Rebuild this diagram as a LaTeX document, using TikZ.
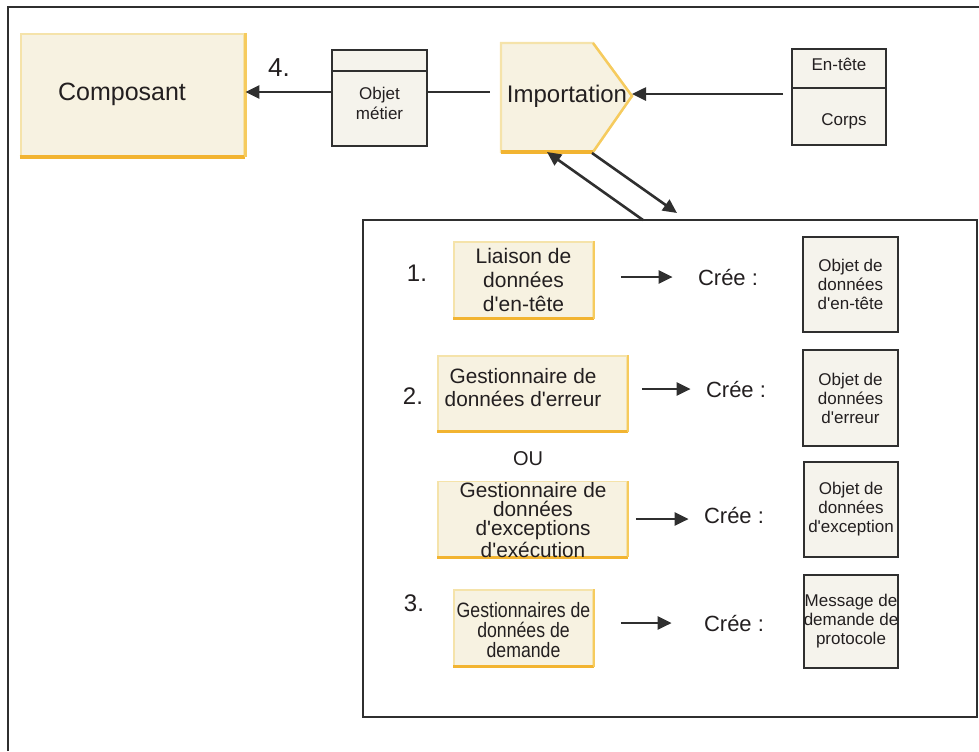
\documentclass[tikz,border=0pt]{standalone}
\usepackage{fontspec}
\setmainfont{Liberation Sans}
\newfontfamily\narrowsans[FakeStretch=0.85]{Liberation Sans}
\usetikzlibrary{arrows.meta,calc}

\definecolor{cream}{HTML}{F7F2E1}
\definecolor{paleedge}{HTML}{F5E3AA}
\definecolor{orangeedge}{HTML}{F2B431}
\definecolor{sideedge}{HTML}{F6CB5E}
\definecolor{greyfill}{HTML}{F5F3EC}
\definecolor{darkline}{HTML}{2F2F2F}
\definecolor{inktext}{HTML}{231F20}

\newcommand{\ap}{\textquotesingle}

\tikzset{
	yellowbox/.style={draw=paleedge, fill=cream, line width=0.8pt, inner sep=0pt, align=center},
	greybox/.style={draw=darkline, fill=greyfill, line width=1pt, inner sep=0pt},
	smalltext/.style={align=center, inner sep=0pt, text=inktext, font=\fontsize{8.5}{9.5}\selectfont},
	boxtext/.style={align=center, inner sep=0pt, text=inktext, font=\fontsize{10.5}{11.8}\selectfont},
	arr/.style={-{Triangle[length=7pt,width=6.5pt]}, line width=1.3pt, draw=darkline},
	num/.style={inner sep=0pt, text=inktext, font=\fontsize{12}{14}\selectfont},
	cree/.style={inner sep=0pt, text=inktext, font=\fontsize{11}{13}\selectfont},
	bottomedge/.style={draw=orangeedge, line width=1.5pt},
	rightedge/.style={draw=sideedge, line width=1pt},
}

\begin{document}
\begin{tikzpicture}[x=0.5pt,y=-0.5pt]
	\useasboundingbox (0,0) rectangle (979,751);
	% outer frame, open to the right and bottom
	\draw[darkline, line width=1pt] (8,751) -- (8,7) -- (979,7);
	
	% top row
	\node[yellowbox, line width=1.4pt, minimum width=111.5pt, minimum height=61pt] (comp) at (132.5,95) {};
	\draw[orangeedge, line width=2pt] (comp.south west) -- (comp.south east);
	\draw[sideedge, line width=1.2pt] (comp.south east) -- (comp.north east);
	\node[inner sep=0pt, text=inktext, font=\fontsize{12.5}{14}\selectfont] (comptxt) at (122,94) {Composant};
	\node[num, font=\fontsize{13}{15}\selectfont] (four) at (279,68) {4.};
	
	\node[greybox, minimum width=47.5pt, minimum height=48pt] (objmet) at (379.5,98) {};
	\draw[darkline, line width=1pt] (objmet.west |- 0,71) -- (objmet.east |- 0,71);
	\node[smalltext, font=\fontsize{8.5}{10}\selectfont] (objmettxt) at (379.5,103) {Objet\\métier};
	
	\draw[fill=cream, draw=paleedge, line width=1.2pt] (501,43) -- (593,43) -- (632,96) -- (593,152) -- (501,152) -- cycle;
	\draw[sideedge, line width=1.2pt] (593,43) -- (632,96) -- (593,152);
	\draw[orangeedge, line width=2pt] (501,152) -- (593,152);
	\node[inner sep=0pt, text=inktext, font=\fontsize{12}{14}\selectfont] (imp) at (567,96) {Importation};
	\coordinate (imptip) at (632,94);
	\coordinate (impgap) at (490,92);
	\coordinate (impbotl) at (547,152);
	\coordinate (impbotr) at (592,153);
	
	\node[greybox, minimum width=47pt, minimum height=48pt] (entete) at (839,97) {};
	\draw[darkline, line width=1pt] (entete.west |- 0,88) -- (entete.east |- 0,88);
	\node[smalltext] (entetetxt) at (839,64) {En-tête};
	\node[smalltext] (corpstxt) at (844,121) {Corps};
	\coordinate (entgap) at (783,94);
	
	\draw[arr] ([yshift=3pt]objmet.west) -- ([yshift=3pt]objmet.west -| comp.east);
	\draw[darkline, line width=1.3pt] ([yshift=3pt]objmet.east) -- (impgap);
	\draw[arr] (entgap) -- (imptip);
	
	% handlers box
	\node[draw=darkline, line width=1pt, minimum width=307pt, minimum height=248.5pt, inner sep=0pt] (bigbox) at (670,468.5) {};
	\coordinate (bigtopa) at (643,220);
	\coordinate (bigtopb) at (677,213);
	\draw[arr] (bigtopa) -- (impbotl);
	\draw[arr] (impbotr) -- (bigtopb);
	
	% 1.
	\node[num] (one) at (417,273) {1.};
	\node[yellowbox, boxtext, minimum width=69.5pt, minimum height=38pt] (liaison) at (523.5,280) {Liaison de\\données\\d\ap en-tête};
	\draw[bottomedge] (liaison.south west) -- (liaison.south east);
	\draw[rightedge] (liaison.south east) -- (liaison.north east);
	\node[cree] (cree1) at (728,277) {Crée :};
	\draw[arr] ($(liaison.east |- cree1)+(27,0)$) -- ($(cree1.west)+(-25,0)$);
	\node[greybox, minimum width=47.5pt, minimum height=47.5pt] (obj1) at (850.5,284.5) {};
	\node[smalltext] (obj1txt) at (obj1) {Objet de\\données\\d\ap en-tête};
	
	% 2.
	\node[num] (two) at (413,396) {2.};
	\node[yellowbox, minimum width=94.5pt, minimum height=37.5pt] (errbox) at (532.5,393.5) {};
	\draw[bottomedge] (errbox.south west) -- (errbox.south east);
	\draw[rightedge] (errbox.south east) -- (errbox.north east);
	\node[boxtext, font=\fontsize{10.4}{11.5}\selectfont] (errtxt) at (523,388) {Gestionnaire de\\données d\ap erreur};
	\node[cree] (cree2) at (736,389) {Crée :};
	\draw[arr] ($(errbox.east |- cree2)+(14,0)$) -- ($(cree2.west)+(-15,0)$);
	\node[greybox, minimum width=47.5pt, minimum height=48pt] (obj2) at (850.5,398) {};
	\node[smalltext] (obj2txt) at (obj2) {Objet de\\données\\d\ap erreur};
	
	\node[inner sep=0pt, text=inktext, font=\fontsize{10}{12}\selectfont] (ou) at (528,459) {OU};
	
	\node[yellowbox, minimum width=94.5pt, minimum height=37.5pt] (excbox) at (532.5,519) {};
	\draw[bottomedge] (excbox.south west) -- (excbox.south east);
	\draw[rightedge] (excbox.south east) -- (excbox.north east);
	\node[boxtext, font=\fontsize{10.4}{9.4}\selectfont] (exctxt) at (533,520) {Gestionnaire de\\données\\d\ap exceptions\\d\ap exécution};
	\node[cree] (cree3) at (734,515) {Crée :};
	\draw[arr] ($(excbox.east)+(8,0)$) -- ($(cree3.west |- excbox.east)+(-15,0)$);
	\node[greybox, minimum width=47pt, minimum height=47.5pt] (obj3) at (851,509.5) {};
	\node[smalltext] (obj3txt) at (obj3) {Objet de\\données\\d\ap exception};
	
	% 3.
	\node[num] (three) at (414,603) {3.};
	\node[yellowbox, minimum width=69.5pt, minimum height=38pt] (reqbox) at (523.5,628) {};
	\draw[bottomedge] (reqbox.south west) -- (reqbox.south east);
	\draw[rightedge] (reqbox.south east) -- (reqbox.north east);
	\node[boxtext, font=\narrowsans\fontsize{10.4}{9.8}\selectfont] (reqtxt) at (523.5,630) {Gestionnaires de\\données de\\demande};
	\node[cree] (cree4) at (734,623) {Crée :};
	\draw[arr] ($(reqbox.east |- cree4)+(27,0)$) -- ($(cree4.west)+(-32,0)$);
	\node[greybox, minimum width=47pt, minimum height=46.5pt] (obj4) at (851,621.5) {};
	\node[smalltext] (obj4txt) at (obj4) {Message de\\demande de\\protocole};
\end{tikzpicture}
\end{document}
